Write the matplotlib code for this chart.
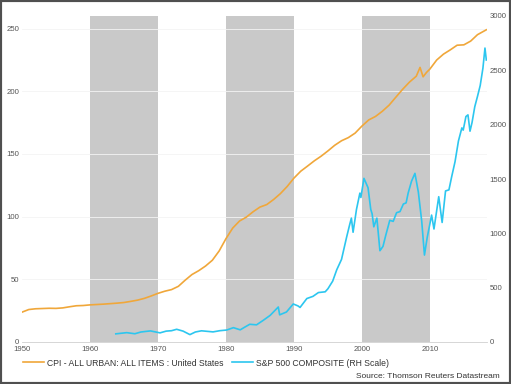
import matplotlib.pyplot as plt
from matplotlib.patches import Rectangle

plt.rcParams['font.family'] = ['Liberation Sans', 'DejaVu Sans']

# CPI - all urban, all items (left scale)
cpi_year = [1950, 1951, 1952, 1953, 1954, 1955, 1956, 1957, 1958, 1959,
            1960, 1961, 1962, 1963, 1964, 1965, 1966, 1967, 1968, 1969,
            1970, 1971, 1972, 1973, 1974, 1975, 1976, 1977, 1978, 1979,
            1980, 1981, 1982, 1983, 1984, 1985, 1986, 1987, 1988, 1989,
            1990, 1991, 1992, 1993, 1994, 1995, 1996, 1997, 1998, 1999,
            2000, 2001, 2002, 2003, 2004, 2005, 2006, 2007, 2008, 2008.55,
            2009.0, 2009.5, 2010, 2011, 2012, 2013, 2014, 2015, 2016, 2017,
            2018.3]
cpi_value = [23.8, 25.9, 26.5, 26.7, 26.9, 26.8, 27.2, 28.1, 28.9, 29.1,
             29.6, 29.9, 30.2, 30.6, 31.0, 31.5, 32.4, 33.4, 34.8, 36.7,
             38.8, 40.5, 41.8, 44.4, 49.3, 53.8, 56.9, 60.6, 65.2, 72.6,
             82.4, 90.9, 96.5, 99.6, 103.9, 107.6, 109.6, 113.6, 118.3, 124.0,
             130.7, 136.2, 140.3, 144.5, 148.2, 152.4, 156.9, 160.5, 163.0, 166.6,
             172.2, 177.1, 179.9, 184.0, 188.9, 195.3, 201.6, 207.3, 212.0, 219.0,
             211.5, 215.0, 217.7, 224.9, 229.6, 233.0, 236.7, 237.0, 240.0, 245.1,
             249.0]

# S&P 500 composite (right scale)
spx_year = [1963.8, 1965.4, 1966.6, 1967.5, 1968.3, 1968.9, 1970.3, 1971.2,
            1972.0, 1972.75, 1973.7, 1974.7, 1975.5, 1976.4, 1977.6, 1978.1,
            1979.1, 1980.1, 1981.1, 1982.1, 1982.8, 1983.5, 1984.5, 1985.5,
            1986.5, 1987.7, 1987.9, 1988.9, 1989.9, 1990.6, 1990.9, 1991.9,
            1992.8, 1993.6, 1994.6, 1995.0, 1995.7, 1996.3, 1997.0, 1997.75,
            1998.2, 1998.45, 1998.7, 1999.2, 1999.7, 1999.85, 2000.3, 2000.9,
            2001.3, 2001.5, 2001.75, 2002.2, 2002.65, 2003.1, 2003.5, 2004.1,
            2004.6, 2005.1, 2005.6, 2006.1, 2006.5, 2006.8, 2007.3, 2007.8,
            2008.3, 2008.8, 2009.2, 2009.6, 2010.25, 2010.6, 2011.3, 2011.8,
            2012.3, 2012.8, 2013.2, 2013.7, 2014.2, 2014.7, 2014.9, 2015.3,
            2015.6, 2015.9, 2016.2, 2016.6, 2017.0, 2017.4, 2017.8, 2018.1,
            2018.3]
spx_value = [75, 86, 76, 92, 98, 102, 84, 100,
             104, 117, 100, 68, 92, 103, 96, 93,
             104, 110, 132, 112, 138, 163, 158, 200,
             245, 322, 250, 276, 350, 332, 318, 400,
             420, 455, 462, 490, 560, 665, 760, 965,
             1080, 1140, 1010, 1220, 1370, 1330, 1506, 1420,
             1220, 1180, 1060, 1140, 840, 880, 980, 1120,
             1110, 1190, 1200, 1270, 1280, 1370, 1480, 1552,
             1380, 1110, 800, 960, 1168, 1040, 1337, 1100,
             1390, 1400, 1520, 1660, 1850, 1970, 1950, 2075,
             2090, 1940, 2020, 2165, 2260, 2360, 2520, 2705,
             2595]

recessions = [(1960, 1970), (1980, 1990), (2000, 2010)]
xticks = [1950, 1960, 1970, 1980, 1990, 2000, 2010]
left_ticks = [0, 50, 100, 150, 200, 250]
right_ticks = [0, 500, 1000, 1500, 2000, 2500, 3000]

orange = '#f0a73a'
cyan = '#2cc6ef'
label_col = '#555555'

fig = plt.figure(figsize=(5.11, 3.84), dpi=100)
ax = fig.add_axes([22 / 511, 1 - 342 / 384, 465 / 511, 326 / 384])
ax2 = ax.twinx()

for a, b in recessions:
    ax.axvspan(a, b, color='#c9c9c9', lw=0, zorder=0)

ax.plot(cpi_year, cpi_value, color=orange, lw=1.2, zorder=3)
ax2.plot(spx_year, spx_value, color=cyan, lw=1.2, zorder=3)

ax.set_xlim(1950, 2018.4)
ax.set_ylim(0, 260)
ax2.set_ylim(0, 3000)
ax.set_xticks(xticks)
ax.set_yticks(left_ticks)
ax2.set_yticks(right_ticks)
ax.grid(axis='y', color='#f4f4f4', lw=0.6)
ax.set_axisbelow(True)

for a in (ax, ax2):
    for s in a.spines.values():
        s.set_visible(False)
    a.tick_params(length=0, labelsize=5.6, labelcolor=label_col, pad=2)
ax.spines['bottom'].set_visible(True)
ax.spines['bottom'].set_color('#d0d0d0')
ax.spines['bottom'].set_linewidth(0.6)
ax.tick_params(axis='x', pad=3)

h1, = ax.plot([], [], color=orange, lw=1.2)
h2, = ax.plot([], [], color=cyan, lw=1.2)
fig.legend([h1, h2],
           ['CPI - ALL URBAN: ALL ITEMS : United States',
            'S&P 500 COMPOSITE (RH Scale)'],
           loc='center left', bbox_to_anchor=(0.030, 1 - 363 / 384), ncol=2,
           frameon=False, fontsize=6.2, handlelength=2.4, handletextpad=0.4,
           columnspacing=1.0, labelcolor='#333333')
fig.text(500 / 511, 1 - 377 / 384, 'Source: Thomson Reuters Datastream',
         ha='right', va='center', fontsize=6.0, color='#333333')

fig.patches.append(Rectangle((0, 0), 1, 1, transform=fig.transFigure,
                             fill=False, edgecolor='#505050', lw=3))

fig.savefig('out.png', dpi=100)
